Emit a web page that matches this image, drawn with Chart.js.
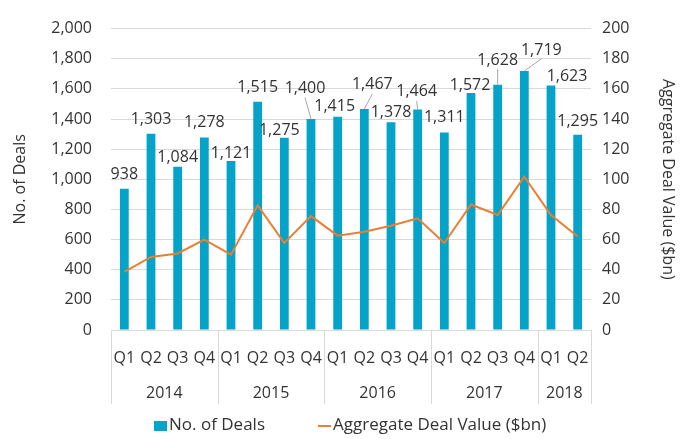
<!DOCTYPE html>
<html>
<head>
<meta charset="utf-8">
<script src="https://cdn.jsdelivr.net/npm/chart.js@4"></script>
<style>
  html, body { margin: 0; padding: 0; background: #fff; }
  #wrap { width: 690px; height: 439px; position: relative; }
</style>
</head>
<body>
<div id="wrap"><canvas id="c" width="690" height="439"></canvas></div>
<script>
// ---- data ----
const quarters = ['Q1','Q2','Q3','Q4','Q1','Q2','Q3','Q4','Q1','Q2','Q3','Q4','Q1','Q2','Q3','Q4','Q1','Q2'];
const years = ['2014','2015','2016','2017','2018'];
const quartersPerYear = [4, 4, 4, 4, 2];
const dealCounts = [938,1303,1084,1278,1121,1515,1275,1400,1415,1467,1378,1464,1311,1572,1628,1719,1623,1295];
const dealValues = [38.5,48.5,50.8,60,50,82.7,57.7,75.6,62.6,65.2,69.2,74.1,57.7,83.3,76.3,101.7,76.3,62];
const leftTicks = [0,200,400,600,800,1000,1200,1400,1600,1800,2000];
const rightTicks = [0,20,40,60,80,100,120,140,160,180,200];

// label placement (dx from bar centre, rise of label centre above bar top, leader line)
const labelDx   = [0,0,0,0,0,0,-5,-6,-3,8,0,-1,0,-1,0,17,16,0];
const labelRise = [14,14,9.5,14.5,7.5,14.5,7,30.5,10,24,9.5,17.5,14.5,7.5,24.5,21,8.5,13];
const labelLeader = [0,0,0,0,0,0,0,1,0,1,0,1,0,0,1,1,0,0];

const FONT = '"Open Sans", "Noto Sans", sans-serif';
const TXT = '#333333';
const BAR = '#05a3c7';
const LINE = '#ed7d31';
const GRID = '#d9d9d9';

const overlay = {
  id: 'overlay',
  afterDatasetsDraw(chart) {
    const ctx = chart.ctx;
    const meta = chart.getDatasetMeta(0);
    ctx.save();
    ctx.font = '16px ' + FONT;
    ctx.fillStyle = TXT;
    ctx.textAlign = 'center';
    ctx.textBaseline = 'middle';
    meta.data.forEach((bar, i) => {
      const cx = bar.x + labelDx[i];
      const cy = bar.y - labelRise[i];
      ctx.fillText(dealCounts[i].toLocaleString('en-US'), cx, cy);
      if (labelLeader[i]) {
        ctx.strokeStyle = '#a6a6a6';
        ctx.lineWidth = 1;
        ctx.beginPath();
        ctx.moveTo(cx, cy + 9);
        ctx.lineTo(bar.x, bar.y);
        ctx.stroke();
      }
    });
    ctx.restore();
  },
  afterDraw(chart) {
    const ctx = chart.ctx;
    const xs = chart.scales.x;
    const area = chart.chartArea;
    const step = xs.getPixelForValue(1) - xs.getPixelForValue(0);
    ctx.save();
    ctx.strokeStyle = GRID;
    ctx.lineWidth = 1;
    ctx.font = '16px ' + FONT;
    ctx.fillStyle = TXT;
    ctx.textAlign = 'center';
    ctx.textBaseline = 'middle';
    let idx = 0;
    const bounds = [];
    years.forEach((yr, k) => {
      const x0 = xs.getPixelForValue(idx) - step / 2;
      const x1 = xs.getPixelForValue(idx + quartersPerYear[k] - 1) + step / 2;
      bounds.push(x0, x1);
      ctx.fillText(yr, (x0 + x1) / 2, 393);
      idx += quartersPerYear[k];
    });
    const uniq = [...new Set(bounds.map(b => Math.round(b)))];
    uniq.forEach(b => {
      ctx.beginPath();
      ctx.moveTo(b + 0.5, area.bottom);
      ctx.lineTo(b + 0.5, 404);
      ctx.stroke();
    });
    // legend
    ctx.font = '17px ' + FONT;
    ctx.textAlign = 'left';
    ctx.fillStyle = BAR;
    ctx.fillRect(154, 421, 13, 10);
    ctx.fillStyle = TXT;
    ctx.fillText(chart.data.datasets[0].label, 169, 425);
    ctx.strokeStyle = LINE;
    ctx.lineWidth = 2;
    ctx.beginPath();
    ctx.moveTo(318, 426);
    ctx.lineTo(331, 426);
    ctx.stroke();
    ctx.fillText(chart.data.datasets[1].label, 333, 425);
    ctx.restore();
  }
};

new Chart(document.getElementById('c'), {
  data: {
    labels: quarters,
    datasets: [
      {
        type: 'bar',
        label: 'No. of Deals',
        data: dealCounts,
        backgroundColor: BAR,
        borderWidth: 0,
        yAxisID: 'y',
        order: 1,
        categoryPercentage: 1,
        barPercentage: 0.33
      },
      {
        type: 'line',
        label: 'Aggregate Deal Value ($bn)',
        data: dealValues,
        borderColor: LINE,
        borderWidth: 2,
        pointRadius: 0,
        tension: 0,
        yAxisID: 'y1',
        order: 0
      }
    ]
  },
  options: {
    responsive: false,
    animation: false,
    devicePixelRatio: 1,
    layout: { padding: { top: 18, right: 0, left: 0, bottom: 0 } },
    plugins: { legend: { display: false }, tooltip: { enabled: false } },
    scales: {
      x: {
        type: 'category',
        grid: { display: false, drawTicks: false },
        border: { display: true, color: GRID },
        ticks: { font: { family: FONT, size: 16 }, color: TXT, padding: 19, maxRotation: 0, autoSkip: false },
        afterFit(s) { s.height = 109; }
      },
      y: {
        position: 'left',
        min: 0, max: 2000,
        afterBuildTicks(s) { s.ticks = leftTicks.map(v => ({ value: v })); },
        grid: { color: GRID, drawTicks: false },
        border: { display: false },
        ticks: { font: { family: FONT, size: 16 }, color: TXT, padding: 19,
                 callback: v => v.toLocaleString('en-US') },
        title: { display: true, text: 'No. of Deals', font: { family: FONT, size: 16 }, color: TXT, padding: { top: 11, bottom: 0 } },
        afterFit(s) { s.width = 111; }
      },
      y1: {
        position: 'right',
        min: 0, max: 200,
        afterBuildTicks(s) { s.ticks = rightTicks.map(v => ({ value: v })); },
        grid: { display: false, drawTicks: false },
        border: { display: false },
        ticks: { font: { family: FONT, size: 16 }, color: TXT, padding: 11 },
        title: { display: true, text: 'Aggregate Deal Value ($bn)', font: { family: FONT, size: 16 }, color: TXT, padding: { top: 13, bottom: 0 } },
        afterFit(s) { s.width = 99; }
      }
    }
  },
  plugins: [overlay]
});
</script>
</body>
</html>
